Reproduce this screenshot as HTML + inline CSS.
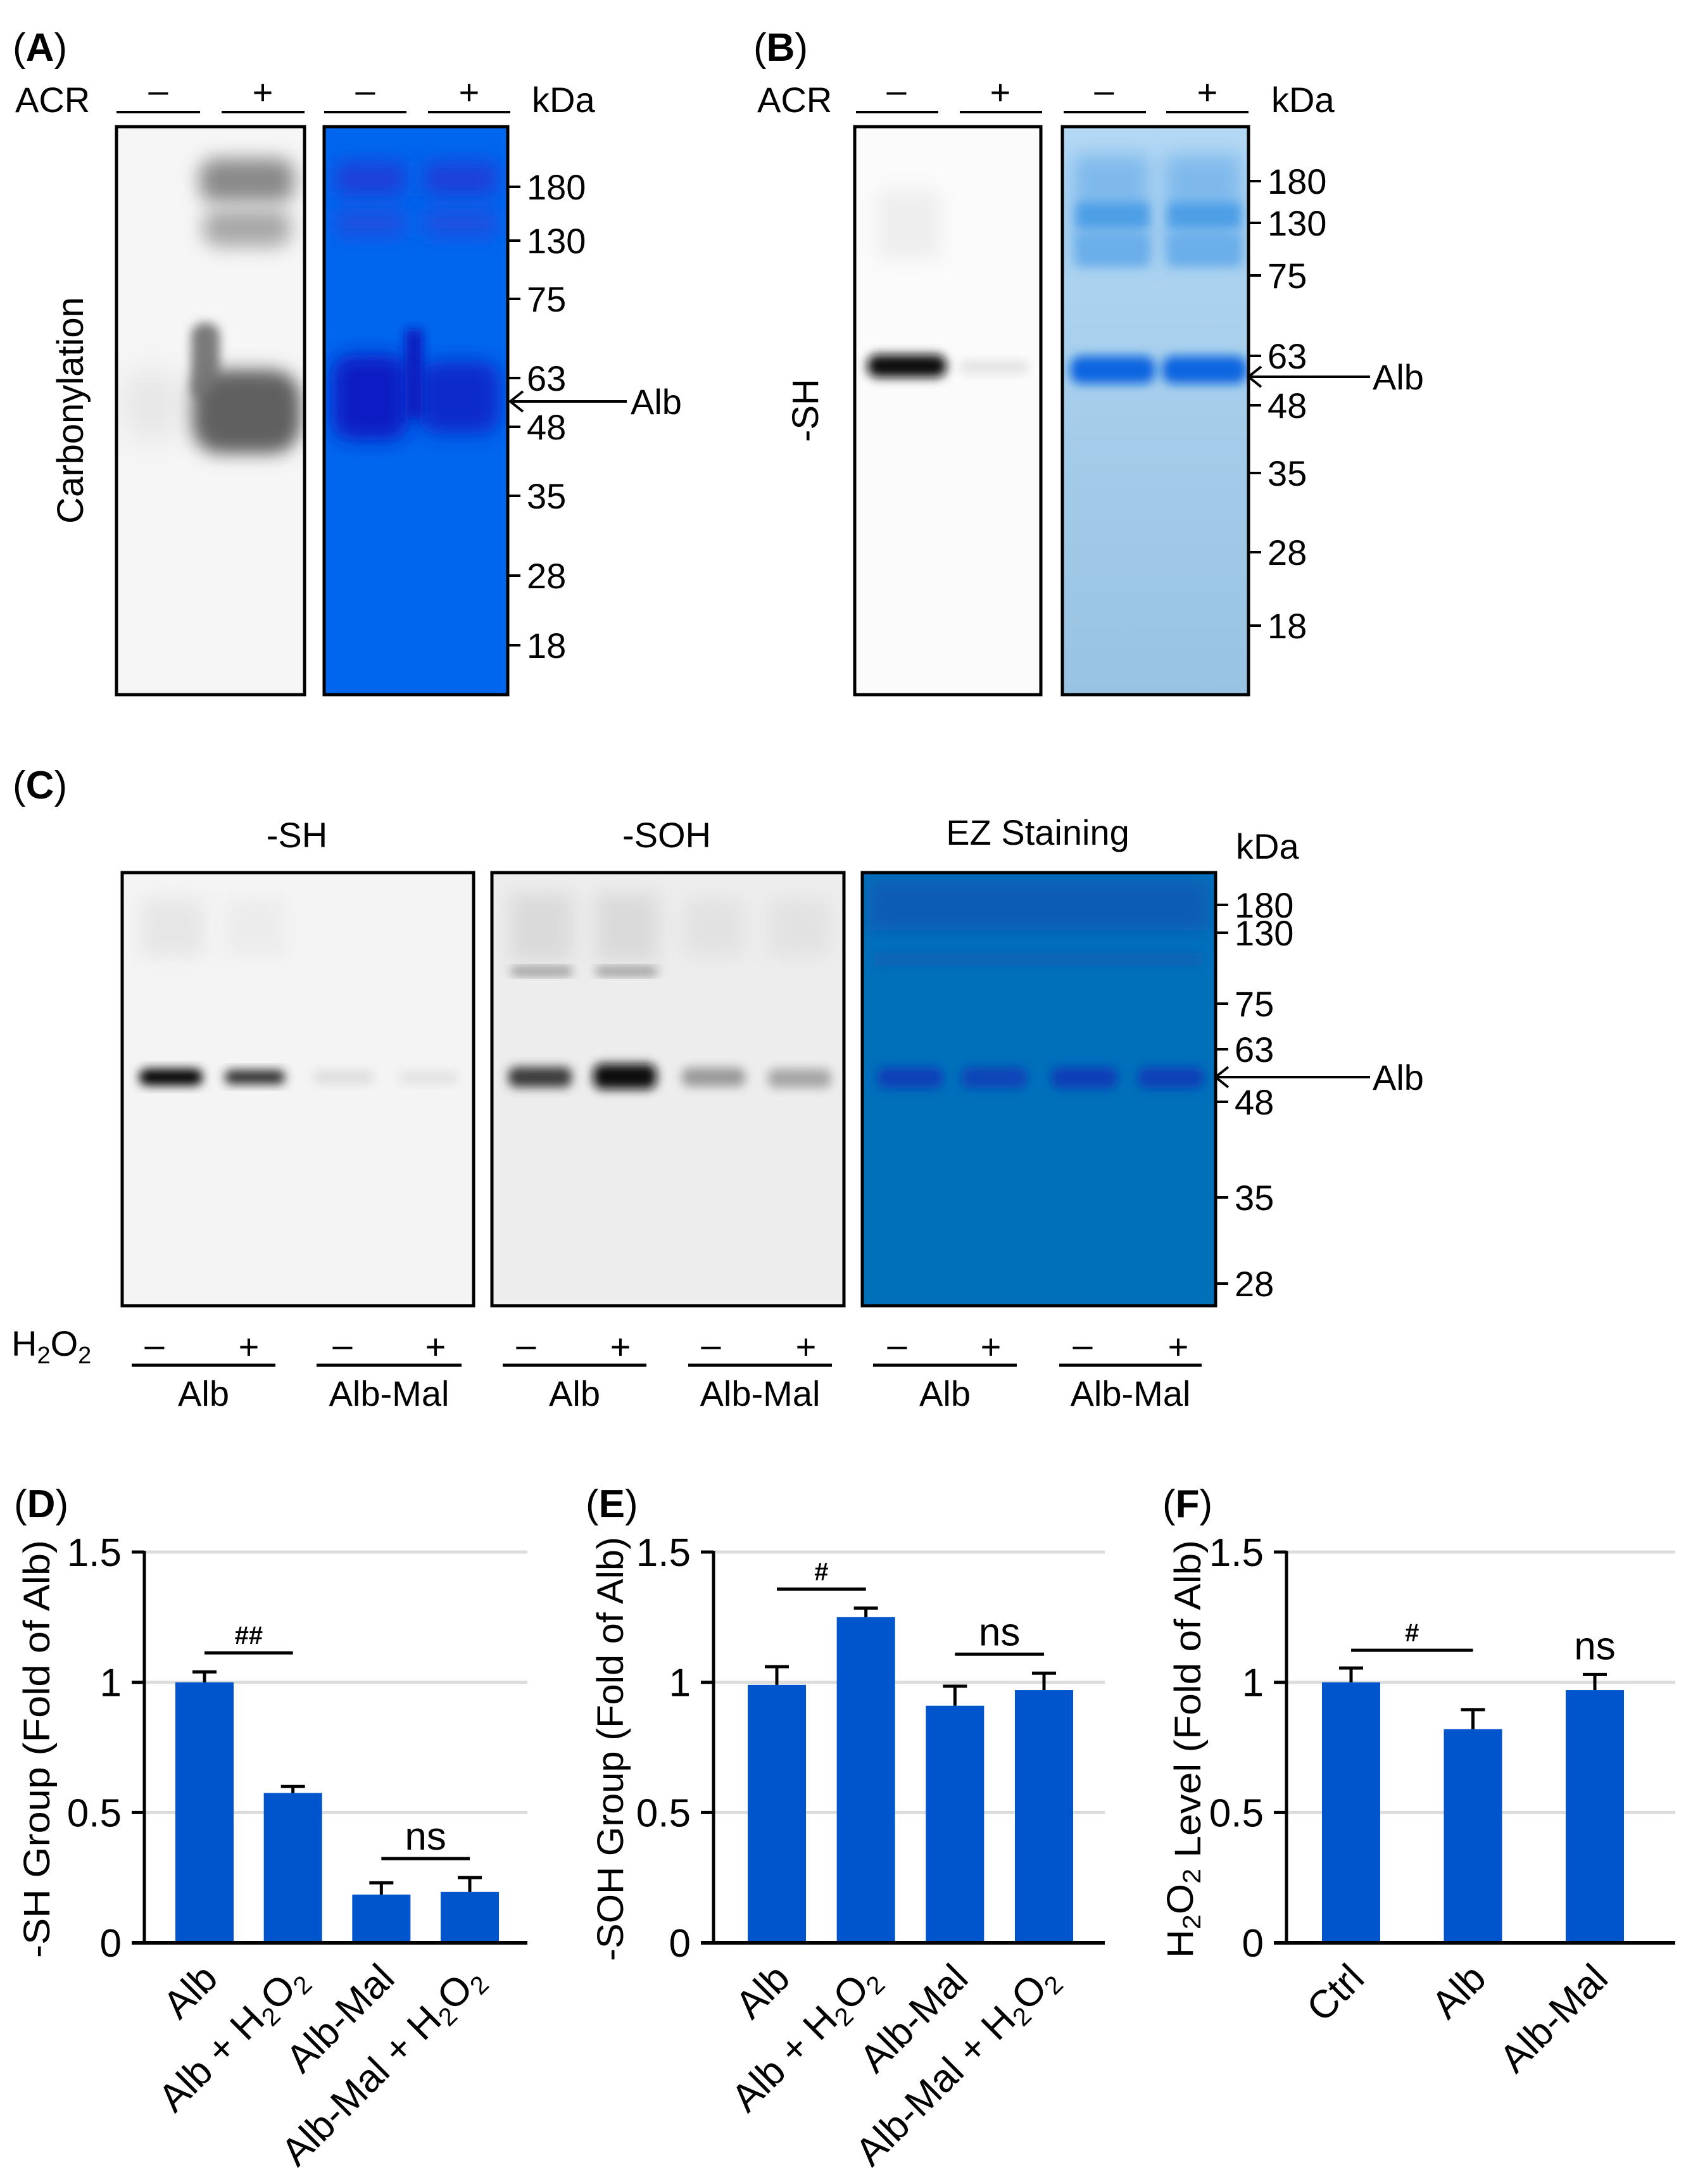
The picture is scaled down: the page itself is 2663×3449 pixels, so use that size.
<!DOCTYPE html>
<html><head><meta charset="utf-8">
<style>
html,body{margin:0;padding:0;background:#fff;}
svg{display:block;}
text{font-family:"Liberation Sans","DejaVu Sans",sans-serif;fill:#000;}
</style></head>
<body>
<svg id="fig" width="2663" height="3449" viewBox="0 0 2663 3449" xmlns="http://www.w3.org/2000/svg">
<defs>
<filter id="b8" x="-50%" y="-50%" width="200%" height="200%"><feGaussianBlur stdDeviation="8"/></filter>
<filter id="b15" x="-50%" y="-50%" width="200%" height="200%"><feGaussianBlur stdDeviation="15"/></filter>
<filter id="b25" x="-50%" y="-50%" width="200%" height="200%"><feGaussianBlur stdDeviation="25"/></filter>
<linearGradient id="lb" x1="0" y1="0" x2="0" y2="1"><stop offset="0" stop-color="#b3d8f4"/><stop offset="1" stop-color="#98c3e2"/></linearGradient>
<clipPath id="cA1"><rect x="184" y="200" width="297" height="897"/></clipPath>
<clipPath id="cA2"><rect x="512" y="200" width="290" height="897"/></clipPath>
<clipPath id="cB1"><rect x="1350" y="200" width="294" height="897"/></clipPath>
<clipPath id="cB2"><rect x="1678" y="200" width="294" height="897"/></clipPath>
<clipPath id="cC1"><rect x="193" y="1378" width="555" height="684"/></clipPath>
<clipPath id="cC2"><rect x="777" y="1378" width="556" height="684"/></clipPath>
<clipPath id="cC3"><rect x="1362" y="1378" width="558" height="684"/></clipPath>
</defs>

<!-- ============ PANEL A ============ -->
<g>
<text x="20" y="96" font-size="62">(<tspan font-weight="bold">A</tspan>)</text>
<text x="24" y="177" font-size="56">ACR</text>
<g stroke="#000" stroke-width="4">
<line x1="184" y1="177" x2="316" y2="177"/><line x1="350" y1="177" x2="481" y2="177"/>
<line x1="512" y1="177" x2="642" y2="177"/><line x1="676" y1="177" x2="806" y2="177"/>
</g>
<g font-size="56" text-anchor="middle">
<text x="250" y="162">–</text><text x="415" y="165">+</text><text x="577" y="162">–</text><text x="741" y="165">+</text>
</g>
<text x="840" y="177" font-size="56">kDa</text>
<!-- carbonylation blot -->
<g clip-path="url(#cA1)">
<rect x="184" y="200" width="297" height="897" fill="#f6f6f6"/>
<ellipse cx="240" cy="640" rx="50" ry="60" fill="#e6e6e6" filter="url(#b25)"/>
<rect x="315" y="250" width="150" height="70" rx="25" fill="#8a8a8a" filter="url(#b15)"/>
<rect x="320" y="330" width="140" height="60" rx="25" fill="#a8a8a8" filter="url(#b15)"/>
<rect x="305" y="585" width="165" height="130" rx="40" fill="#6e6e6e" filter="url(#b15)"/>
<rect x="302" y="510" width="45" height="120" rx="20" fill="#7a7a7a" filter="url(#b8)"/>
<rect x="320" y="600" width="145" height="100" rx="30" fill="#5e5e5e" filter="url(#b15)"/>
</g>
<rect x="184" y="200" width="297" height="897" fill="none" stroke="#000" stroke-width="5"/>
<!-- blue gel A -->
<g clip-path="url(#cA2)">
<rect x="512" y="200" width="290" height="897" fill="#0066ee"/>
<rect x="530" y="255" width="110" height="55" fill="#1a3fd8" filter="url(#b15)"/>
<rect x="670" y="255" width="115" height="55" fill="#1a3fd8" filter="url(#b15)"/>
<rect x="530" y="330" width="110" height="45" fill="#1f4fe0" filter="url(#b15)"/>
<rect x="670" y="330" width="115" height="45" fill="#1f4fe0" filter="url(#b15)"/>
<rect x="525" y="560" width="120" height="135" rx="30" fill="#0a1fc4" filter="url(#b15)"/>
<rect x="660" y="570" width="130" height="115" rx="30" fill="#0d2acb" filter="url(#b15)"/>
<rect x="640" y="520" width="28" height="140" fill="#0c1dc0" filter="url(#b8)"/>
</g>
<rect x="512" y="200" width="290" height="897" fill="none" stroke="#000" stroke-width="5"/>
<text x="111" y="648" font-size="58" text-anchor="middle" transform="rotate(-90 111 648)" dy="20">Carbonylation</text>
<g id="ladderA"></g>
<line x1="806" y1="634" x2="990" y2="634" stroke="#000" stroke-width="4"/>
<polyline points="826,618 806,634 826,650" fill="none" stroke="#000" stroke-width="4"/>
<text x="996" y="654" font-size="56">Alb</text>
</g>

<!-- ============ PANEL B ============ -->
<g>
<text x="1190" y="96" font-size="62">(<tspan font-weight="bold">B</tspan>)</text>
<text x="1196" y="177" font-size="56">ACR</text>
<g stroke="#000" stroke-width="4">
<line x1="1352" y1="177" x2="1482" y2="177"/><line x1="1516" y1="177" x2="1646" y2="177"/>
<line x1="1680" y1="177" x2="1810" y2="177"/><line x1="1842" y1="177" x2="1972" y2="177"/>
</g>
<g font-size="56" text-anchor="middle">
<text x="1416" y="162">–</text><text x="1580" y="165">+</text><text x="1744" y="162">–</text><text x="1907" y="165">+</text>
</g>
<text x="2008" y="177" font-size="56">kDa</text>
<g clip-path="url(#cB1)">
<rect x="1350" y="200" width="294" height="897" fill="#fbfbfb"/>
<rect x="1385" y="300" width="100" height="110" fill="#eeeeee" filter="url(#b15)"/>
<rect x="1370" y="560" width="125" height="36" rx="16" fill="#0c0c0c" filter="url(#b8)"/>
<rect x="1515" y="570" width="110" height="20" rx="10" fill="#e2e2e2" filter="url(#b8)"/>
</g>
<rect x="1350" y="200" width="294" height="897" fill="none" stroke="#000" stroke-width="5"/>
<g clip-path="url(#cB2)">
<rect x="1678" y="200" width="294" height="897" fill="url(#lb)"/>
<rect x="1695" y="245" width="120" height="170" fill="#7fb9ec" filter="url(#b15)"/>
<rect x="1840" y="245" width="120" height="170" fill="#7fb9ec" filter="url(#b15)"/>
<rect x="1700" y="320" width="115" height="40" fill="#4d9fe6" filter="url(#b8)"/>
<rect x="1845" y="320" width="115" height="40" fill="#4d9fe6" filter="url(#b8)"/>
<rect x="1700" y="370" width="115" height="50" fill="#6aaeea" filter="url(#b8)"/>
<rect x="1845" y="370" width="115" height="50" fill="#6aaeea" filter="url(#b8)"/>
<rect x="1690" y="562" width="135" height="44" rx="18" fill="#0a66e0" filter="url(#b8)"/>
<rect x="1835" y="562" width="135" height="44" rx="18" fill="#0a66e0" filter="url(#b8)"/>
</g>
<rect x="1678" y="200" width="294" height="897" fill="none" stroke="#000" stroke-width="5"/>
<text x="1272" y="648" font-size="58" text-anchor="middle" transform="rotate(-90 1272 648)" dy="20">-SH</text>
<g id="ladderB"></g>
<line x1="1972" y1="595" x2="2164" y2="595" stroke="#000" stroke-width="4"/>
<polyline points="1992,579 1972,595 1992,611" fill="none" stroke="#000" stroke-width="4"/>
<text x="2168" y="615" font-size="56">Alb</text>
</g>

<!-- ============ PANEL C ============ -->
<g>
<text x="20" y="1261" font-size="62">(<tspan font-weight="bold">C</tspan>)</text>
<text x="469" y="1338" font-size="56" text-anchor="middle">-SH</text>
<text x="1053" y="1338" font-size="56" text-anchor="middle">-SOH</text>
<text x="1639" y="1334" font-size="56" text-anchor="middle">EZ Staining</text>
<text x="1952" y="1356" font-size="56">kDa</text>
<g clip-path="url(#cC1)">
<rect x="193" y="1378" width="555" height="684" fill="#f4f4f4"/>
<rect x="222" y="1420" width="100" height="90" fill="#e6e6e6" filter="url(#b15)"/>
<rect x="355" y="1420" width="95" height="90" fill="#ececec" filter="url(#b15)"/>
<rect x="220" y="1688" width="100" height="26" rx="12" fill="#050505" filter="url(#b8)"/>
<rect x="355" y="1690" width="95" height="22" rx="10" fill="#2a2a2a" filter="url(#b8)"/>
<rect x="495" y="1690" width="95" height="22" rx="10" fill="#dedede" filter="url(#b8)"/>
<rect x="630" y="1692" width="95" height="20" rx="10" fill="#e2e2e2" filter="url(#b8)"/>
</g>
<rect x="193" y="1378" width="555" height="684" fill="none" stroke="#000" stroke-width="5"/>
<g clip-path="url(#cC2)">
<rect x="777" y="1378" width="556" height="684" fill="#ededed"/>
<rect x="805" y="1410" width="100" height="110" fill="#dadada" filter="url(#b15)"/>
<rect x="940" y="1410" width="100" height="110" fill="#dadada" filter="url(#b15)"/>
<rect x="1080" y="1420" width="95" height="90" fill="#e2e2e2" filter="url(#b15)"/>
<rect x="1215" y="1420" width="95" height="90" fill="#e2e2e2" filter="url(#b15)"/>
<rect x="808" y="1528" width="95" height="12" fill="#888" filter="url(#b8)"/>
<rect x="942" y="1528" width="95" height="12" fill="#888" filter="url(#b8)"/>
<rect x="803" y="1685" width="100" height="32" rx="12" fill="#3a3a3a" filter="url(#b8)"/>
<rect x="937" y="1680" width="100" height="40" rx="14" fill="#0a0a0a" filter="url(#b8)"/>
<rect x="1077" y="1686" width="100" height="30" rx="12" fill="#9a9a9a" filter="url(#b8)"/>
<rect x="1213" y="1688" width="100" height="30" rx="12" fill="#a6a6a6" filter="url(#b8)"/>
</g>
<rect x="777" y="1378" width="556" height="684" fill="none" stroke="#000" stroke-width="5"/>
<g clip-path="url(#cC3)">
<rect x="1362" y="1378" width="558" height="684" fill="#0070bb"/>
<rect x="1370" y="1390" width="540" height="80" fill="#0a5cb4" filter="url(#b15)"/>
<rect x="1380" y="1505" width="520" height="20" fill="#0a62b6" filter="url(#b8)"/>
<rect x="1385" y="1685" width="105" height="34" rx="14" fill="#0a3fb8" filter="url(#b8)"/>
<rect x="1518" y="1685" width="105" height="34" rx="14" fill="#0a45b8" filter="url(#b8)"/>
<rect x="1660" y="1685" width="105" height="34" rx="14" fill="#0a3cb8" filter="url(#b8)"/>
<rect x="1797" y="1685" width="105" height="34" rx="14" fill="#0a3fb8" filter="url(#b8)"/>
</g>
<rect x="1362" y="1378" width="558" height="684" fill="none" stroke="#000" stroke-width="5"/>
<g id="ladderC"></g>
<line x1="1920" y1="1701" x2="2164" y2="1701" stroke="#000" stroke-width="4"/>
<polyline points="1940,1685 1920,1701 1940,1717" fill="none" stroke="#000" stroke-width="4"/>
<text x="2168" y="1721" font-size="56">Alb</text>
<text x="18" y="2141" font-size="56">H<tspan font-size="38" dy="12">2</tspan><tspan dy="-12">O</tspan><tspan font-size="38" dy="12">2</tspan></text>
<g id="laneLabels"></g>
</g>

<!-- ============ CHARTS ============ -->
<g id="chartD"></g>
<g id="chartE"></g>
<g id="chartF"></g>
</svg>

<script>
// ----- chart data -----
var dCategories = ["Alb", "Alb + H2O2", "Alb-Mal", "Alb-Mal + H2O2"];
var dValues = [1.0, 0.575, 0.185, 0.195];
var dErrors = [0.04, 0.025, 0.045, 0.055];
var eCategories = ["Alb", "Alb + H2O2", "Alb-Mal", "Alb-Mal + H2O2"];
var eValues = [0.99, 1.25, 0.91, 0.97];
var eErrors = [0.07, 0.035, 0.075, 0.065];
var fCategories = ["Ctrl", "Alb", "Alb-Mal"];
var fValues = [1.0, 0.82, 0.97];
var fErrors = [0.055, 0.075, 0.06];
var yTicks = [0, 0.5, 1, 1.5];
var yTickLabels = ["0", "0.5", "1", "1.5"];
var ladderAValues = ["180","130","75","63","48","35","28","18"];
var ladderBValues = ["180","130","75","63","48","35","28","18"];
var ladderCValues = ["180","130","75","63","48","35","28"];

var NS = "http://www.w3.org/2000/svg";
function mk(tag, attrs, parent) {
  var e = document.createElementNS(NS, tag);
  for (var k in attrs) e.setAttribute(k, attrs[k]);
  if (parent) parent.appendChild(e);
  return e;
}
function labelWithSub(t, txt, subSize) {
  var parts = txt.split(/(H2O2)/);
  parts.forEach(function (p) {
    if (p === "H2O2") {
      var a = mk("tspan", {}, t); a.textContent = "H";
      var b = mk("tspan", {"font-size": subSize, dy: 12}, t); b.textContent = "2";
      var c = mk("tspan", {dy: -12}, t); c.textContent = "O";
      var d = mk("tspan", {"font-size": subSize, dy: 12}, t); d.textContent = "2";
      var z = mk("tspan", {dy: -12}, t); z.textContent = "";
    } else if (p) {
      var s = mk("tspan", {}, t); s.textContent = p;
    }
  });
}

// ----- ladders -----
function ladder(gid, labels, ys, x0) {
  var g = document.getElementById(gid);
  labels.forEach(function (l, i) {
    var ln = mk("line", {x1: x0, y1: ys[i], x2: x0 + 20, y2: ys[i], stroke: "#000", "stroke-width": 4}, g);
    
    
    var t = mk("text", {x: x0 + 30, y: ys[i] + 20, "font-size": 56}, g);
    
    
    t.textContent = l;
  });
}
ladder("ladderA", ladderAValues, [295,380,472,597,674,783,909,1019], 802);
ladder("ladderB", ladderBValues, [286,352,435,562,640,747,872,988], 1972);
ladder("ladderC", ladderCValues, [1429,1473,1585,1657,1740,1891,2027], 1920);

// ----- lane labels panel C -----
(function () {
  var g = document.getElementById("laneLabels");
  var minusX = [244,541,831,1123,1417,1710], plusX = [393,688,980,1273,1565,1861];
  var segs = [[208,435,"Alb"],[500,729,"Alb-Mal"],[794,1021,"Alb"],[1087,1314,"Alb-Mal"],[1379,1606,"Alb"],[1673,1898,"Alb-Mal"]];
  minusX.forEach(function (x) { var t = mk("text", {x: x, y: 2143, "font-size": 56, "text-anchor": "middle"}, g);   t.textContent = "–"; });
  plusX.forEach(function (x) { var t = mk("text", {x: x, y: 2146, "font-size": 56, "text-anchor": "middle"}, g);   t.textContent = "+"; });
  segs.forEach(function (s) {
    var l = mk("line", {x1: s[0], y1: 2156, x2: s[1], y2: 2156, stroke: "#000", "stroke-width": 5}, g);
     
    var t = mk("text", {x: (s[0]+s[1])/2, y: 2220, "font-size": 56, "text-anchor": "middle"}, g);
     
    t.textContent = s[2];
  });
})();

// ----- bar charts -----
var Y0 = 3068, UNIT = 411.3;
function yS(v) { return Y0 - v * UNIT; }
function chart(cfg) {
  var g = document.getElementById(cfg.id);
  var ax = cfg.axisX;
  var pl = mk("text", {x: cfg.labelX, y: 2396, "font-size": 62}, g);
  
  
  pl.textContent = "(";
  var tb = mk("tspan", {"font-weight": "bold"}, pl); tb.textContent = cfg.letter;
  var te = mk("tspan", {}, pl); te.textContent = ")";
  yTicks.forEach(function (v, i) {
    if (v > 0) {
      var gl = mk("line", {x1: ax, y1: yS(v), x2: cfg.rightX, y2: yS(v), stroke: "#dcdcdc", "stroke-width": 5}, g);
      
      
    }
    var tk = mk("line", {x1: ax - 20, y1: yS(v), x2: ax, y2: yS(v), stroke: "#000", "stroke-width": 5}, g);
    
    
    var tl = mk("text", {x: ax - 36, y: yS(v) + 22, "font-size": 62, "text-anchor": "end"}, g);
    
    
    tl.textContent = yTickLabels[i];
  });
  var n = cfg.values.length;
  var step = (cfg.lastC - cfg.firstC) / (n - 1);
  var centers = [];
  for (var i = 0; i < n; i++) {
    var cx = cfg.firstC + i * step; centers.push(cx);
    var v = cfg.values[i];
    var r = mk("rect", {x: cx - 46, y: yS(v), width: 92, height: Y0 - yS(v), fill: "#0055cc"}, g);
    
    
    var top = v + cfg.errors[i];
    var el = mk("line", {x1: cx, y1: yS(v), x2: cx, y2: yS(top), stroke: "#000", "stroke-width": 5}, g);
    
    
    var ec = mk("line", {x1: cx - 19, y1: yS(top), x2: cx + 19, y2: yS(top), stroke: "#000", "stroke-width": 5}, g);
    
    
    var xl = mk("text", {x: cx + 24, y: 3128, "font-size": 62, "text-anchor": "end", transform: "rotate(-45 " + (cx + 24) + " 3128)"}, g);
    
    
    labelWithSub(xl, cfg.cats[i], 40);
  }
  var yax = mk("line", {x1: ax, y1: yS(1.5) - 2, x2: ax, y2: Y0 + 2, stroke: "#000", "stroke-width": 5}, g);
  
  
  var xax = mk("line", {x1: ax - 20, y1: Y0, x2: cfg.rightX, y2: Y0, stroke: "#000", "stroke-width": 6}, g);
  
  
  var yt = mk("text", {x: cfg.titleX, y: 2762, "font-size": 58, "text-anchor": "middle", textLength: cfg.titleLen, lengthAdjust: "spacingAndGlyphs", transform: "rotate(-90 " + cfg.titleX + " 2762)"}, g);
  
  
  labelWithSub(yt, cfg.title, 40);
  cfg.sig.forEach(function (s) {
    if (s.a !== null) {
      var lo = Math.max(cfg.values[s.a] + cfg.errors[s.a], cfg.values[s.b] + cfg.errors[s.b]);
      var ly = yS(lo) - s.gap;
      var sl = mk("line", {x1: centers[s.a] - s.pad, y1: ly, x2: centers[s.b] + s.pad2, y2: ly, stroke: "#000", "stroke-width": 5}, g);
      
      
      var st = mk("text", {x: (centers[s.a] + centers[s.b]) / 2 + s.dx, y: ly - 14, "font-size": s.size, "font-weight": s.bold ? "bold" : "normal", "text-anchor": "middle"}, g);
      
      
      st.textContent = s.text;
    } else {
      var t2 = mk("text", {x: centers[s.b], y: yS(cfg.values[s.b] + cfg.errors[s.b]) - 24, "font-size": s.size, "text-anchor": "middle"}, g);
      
      
      t2.textContent = s.text;
    }
  });
}
chart({id: "chartD", letter: "D", labelX: 22, axisX: 228, rightX: 833, firstC: 323, lastC: 742,
  values: dValues, errors: dErrors, cats: dCategories, titleX: 78, titleLen: 660, title: "-SH Group (Fold of Alb)",
  sig: [{a: 0, b: 1, gap: 30, pad: 0, pad2: 0, text: "##", size: 40, bold: true, dx: 0},
        {a: 2, b: 3, gap: 30, pad: 0, pad2: 0, text: "ns", size: 62, bold: false, dx: 0}]});
chart({id: "chartE", letter: "E", labelX: 925, axisX: 1127, rightX: 1745, firstC: 1227, lastC: 1649,
  values: eValues, errors: eErrors, cats: eCategories, titleX: 984, titleLen: 670, title: "-SOH Group (Fold of Alb)",
  sig: [{a: 0, b: 1, gap: 30, pad: 0, pad2: 0, text: "#", size: 40, bold: true, dx: 0},
        {a: 2, b: 3, gap: 30, pad: 0, pad2: 0, text: "ns", size: 62, bold: false, dx: 0}]});
chart({id: "chartF", letter: "F", labelX: 1836, axisX: 2032, rightX: 2646, firstC: 2134, lastC: 2519,
  values: fValues, errors: fErrors, cats: fCategories, titleX: 1884, titleLen: 660, title: "H2O2 Level (Fold of Alb)",
  sig: [{a: 0, b: 1, gap: 28, pad: 0, pad2: 0, text: "#", size: 40, bold: true, dx: 0},
        {a: null, b: 2, text: "ns", size: 62}]});
</script>
</body></html>
